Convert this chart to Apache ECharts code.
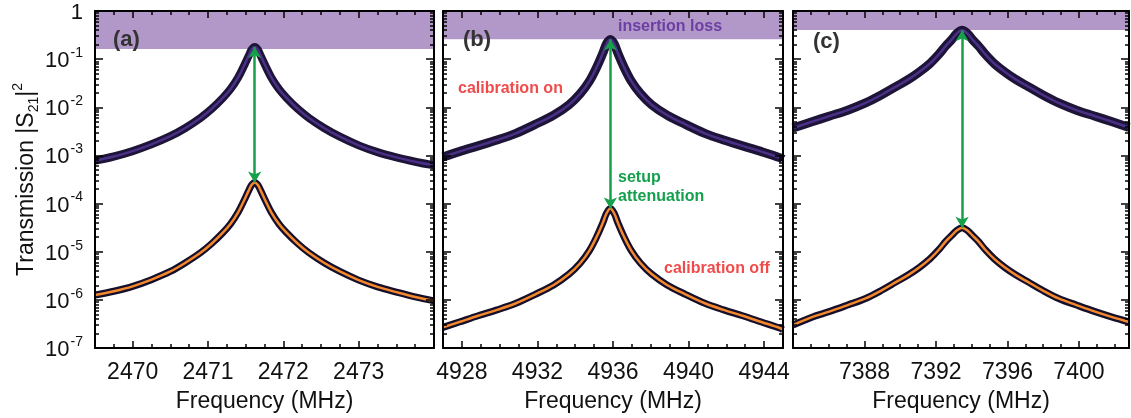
<!DOCTYPE html>
<html>
<head>
<meta charset="utf-8">
<script src="https://cdn.jsdelivr.net/npm/echarts@6/dist/echarts.min.js"></script>
<style>
  html, body { margin: 0; padding: 0; background: #fff; }
  #chart { width: 1131px; height: 418px; }
</style>
</head>
<body>
<div id="chart"></div>
<script>
// ---- Resonance (a): frequency in MHz, transmission |S21|^2 ----
const freqA = [2469.5, 2469.75, 2470.0, 2470.25, 2470.5, 2470.7, 2470.9, 2471.05, 2471.2, 2471.3,
  2471.4, 2471.48, 2471.54, 2471.58, 2471.62, 2471.66, 2471.7, 2471.76, 2471.84, 2471.94,
  2472.04, 2472.19, 2472.34, 2472.54, 2472.75, 2473.0, 2473.25, 2473.5, 2473.75, 2474.0];
const calOnA = [7.8e-4, 9.5e-4, 1.23e-3, 1.70e-3, 2.51e-3, 3.72e-3, 6.0e-3, 9.3e-3, 1.58e-2, 2.40e-2,
  4.17e-2, 7.4e-2, 0.117, 0.158, 0.178, 0.158, 0.117, 7.4e-2, 4.17e-2, 2.40e-2,
  1.58e-2, 9.3e-3, 6.0e-3, 3.72e-3, 2.45e-3, 1.62e-3, 1.17e-3, 9.1e-4, 7.4e-4, 6.2e-4];
const calOffA = [1.26e-6, 1.51e-6, 1.91e-6, 2.63e-6, 3.89e-6, 5.9e-6, 9.5e-6, 1.48e-5, 2.51e-5, 3.80e-5,
  6.6e-5, 1.17e-4, 1.86e-4, 2.45e-4, 2.75e-4, 2.45e-4, 1.86e-4, 1.17e-4, 6.6e-5, 3.80e-5,
  2.51e-5, 1.48e-5, 9.5e-6, 5.9e-6, 3.89e-6, 2.57e-6, 1.86e-6, 1.45e-6, 1.15e-6, 9.5e-7];

// ---- Resonance (b) ----
const freqB = [4927.0, 4927.86, 4928.86, 4929.86, 4930.86, 4931.86, 4932.86, 4933.66, 4934.26, 4934.76,
  4935.16, 4935.46, 4935.66, 4935.86, 4936.06, 4936.26, 4936.56, 4936.96, 4937.46, 4938.06,
  4938.86, 4939.86, 4940.86, 4941.86, 4942.86, 4943.86, 4944.86, 4945.0];
const calOnB = [9.3e-4, 1.20e-3, 1.58e-3, 2.09e-3, 2.88e-3, 4.37e-3, 6.9e-3, 1.12e-2, 1.91e-2, 3.55e-2,
  7.1e-2, 0.132, 0.209, 0.257, 0.209, 0.132, 7.1e-2, 3.55e-2, 1.91e-2, 1.12e-2,
  6.9e-3, 4.37e-3, 2.88e-3, 2.09e-3, 1.58e-3, 1.20e-3, 8.9e-4, 8.3e-4];
const calOffB = [2.69e-7, 3.47e-7, 4.68e-7, 6.2e-7, 8.5e-7, 1.29e-6, 2.04e-6, 3.39e-6, 5.75e-6, 1.07e-5,
  2.14e-5, 3.98e-5, 6.3e-5, 7.9e-5, 6.3e-5, 3.98e-5, 2.14e-5, 1.07e-5, 5.75e-6, 3.39e-6,
  2.04e-6, 1.29e-6, 8.5e-7, 6.2e-7, 4.68e-7, 3.47e-7, 2.57e-7, 2.40e-7];

// ---- Resonance (c) ----
const freqC = [7384.0, 7385.06, 7386.06, 7387.06, 7388.06, 7388.96, 7389.76, 7390.46, 7391.06, 7391.66,
  7392.16, 7392.56, 7392.86, 7393.16, 7393.46, 7393.76, 7394.06, 7394.36, 7394.76, 7395.26,
  7395.86, 7396.46, 7397.16, 7397.96, 7398.86, 7399.86, 7400.86, 7401.86, 7402.8];
const calOnC = [3.72e-3, 5.0e-3, 6.6e-3, 8.7e-3, 1.23e-2, 1.82e-2, 2.69e-2, 3.80e-2, 5.4e-2, 8.1e-2,
  0.126, 0.191, 0.251, 0.339, 0.398, 0.339, 0.251, 0.191, 0.126, 8.1e-2,
  5.4e-2, 3.80e-2, 2.69e-2, 1.82e-2, 1.23e-2, 8.7e-3, 6.6e-3, 5.0e-3, 3.80e-3];
const calOffC = [3.0e-7, 4.37e-7, 5.75e-7, 7.8e-7, 1.07e-6, 1.58e-6, 2.34e-6, 3.31e-6, 4.68e-6, 7.1e-6,
  1.10e-5, 1.66e-5, 2.14e-5, 2.75e-5, 3.16e-5, 2.75e-5, 2.14e-5, 1.66e-5, 1.10e-5, 7.1e-6,
  4.68e-6, 3.31e-6, 2.34e-6, 1.58e-6, 1.07e-6, 7.8e-7, 5.75e-7, 4.37e-7, 3.47e-7];

// Insertion loss level shown as a shaded band for each resonance
const insertionLoss = [0.162, 0.26, 0.405];

// Tick labels
const xTickLabels = [
  [2470, 2471, 2472, 2473],
  [4928, 4932, 4936, 4940, 4944],
  [7388, 7392, 7396, 7400]
];
const yTickLabels = [1e-7, 1e-6, 1e-5, 1e-4, 1e-3, 1e-2, 1e-1, 1];

// Axis ranges and minor tick step per panel
const xMin = [2469.5, 4927, 7384];
const xMax = [2474.0, 4945, 7402.8];
const xMinorStep = [0.25, 1, 1];

const panelFreq = [freqA, freqB, freqC];
const panelOn = [calOnA, calOnB, calOnC];
const panelOff = [calOffA, calOffB, calOffC];

const FONT = 'Liberation Sans, Arial, sans-serif';
const grids = [
  { left: 95, top: 11, width: 339, height: 339 },
  { left: 443, top: 11, width: 340, height: 339 },
  { left: 793, top: 11, width: 336, height: 339 }
];
const Y_MIN = 1e-7, Y_MAX = 1;
const DECADES = Math.log10(Y_MAX / Y_MIN);

// log-axis minor ticks: 2..9 x 10^k
const yMinor = [];
for (let k = -7; k < 0; k++) {
  for (let m = 2; m <= 9; m++) yMinor.push(+(m * Math.pow(10, k)).toPrecision(3));
}

const axisLineStyle = { color: '#000', width: 2 };

const xAxis = [];
const yAxis = [];
grids.forEach((g, i) => {
  const base = {
    type: 'value', gridIndex: i, min: xMin[i], max: xMax[i], z: 10,
    splitLine: { show: false }, axisTick: { show: false },
    axisLine: { show: true, onZero: false, lineStyle: axisLineStyle }
  };
  xAxis.push(Object.assign({}, base, {
    position: 'bottom',
    axisLabel: {
      show: true, customValues: xTickLabels[i], fontSize: 23, color: '#111', fontFamily: FONT, margin: 13,
      formatter: function (v) { return String(v); }
    },
    name: 'Frequency (MHz)',
    nameLocation: 'middle',
    nameGap: 42,
    nameTextStyle: { fontSize: 23, color: '#111', fontFamily: FONT }
  }));
  xAxis.push(Object.assign({}, base, { position: 'top', axisLabel: { show: false } }));

  const ybase = {
    type: 'log', logBase: 10, gridIndex: i, min: Y_MIN, max: Y_MAX, z: 10,
    splitLine: { show: false }, axisTick: { show: false },
    axisLine: { show: true, onZero: false, lineStyle: axisLineStyle }
  };
  const left = Object.assign({}, ybase, {
    position: 'left',
    axisLabel: {
      show: i === 0,
      margin: 12,
      fontFamily: FONT,
      color: '#111',
      formatter: function (v) {
        const e = Math.round(Math.log10(v));
        return e === 0 ? '{b|1}' : '{b|10}{s|' + e + '}';
      },
      rich: {
        b: { fontSize: 22, fontFamily: FONT, color: '#111', lineHeight: 26, verticalAlign: 'bottom' },
        s: { fontSize: 14, fontFamily: FONT, color: '#111', lineHeight: 26, verticalAlign: 'top', padding: [0, 0, 0, 1] }
      }
    }
  });
  if (i === 0) {
    left.name = '{n|Transmission |S}{sub|21}{n||}{sup|2}';
    left.nameLocation = 'middle';
    left.nameGap = 50;
    left.nameTextStyle = {
      fontFamily: FONT,
      rich: {
        n: { fontSize: 23, fontFamily: FONT, color: '#111', lineHeight: 30, verticalAlign: 'middle' },
        sub: { fontSize: 14, fontFamily: FONT, color: '#111', lineHeight: 30, verticalAlign: 'bottom' },
        sup: { fontSize: 14, fontFamily: FONT, color: '#111', lineHeight: 30, verticalAlign: 'top' }
      }
    };
  }
  yAxis.push(left);
  yAxis.push(Object.assign({}, ybase, { position: 'right', axisLabel: { show: false } }));
});

// Inward tick segments on the four frame sides, expressed in axis units
function frameTicks(i) {
  const g = grids[i];
  const xPerPx = (xMax[i] - xMin[i]) / g.width;
  const decPerPx = DECADES / g.height;
  const segs = [];
  const xt = xTickLabels[i].map(v => [v, 7]);
  const steps = Math.round((xMax[i] - xMin[i]) / xMinorStep[i]);
  for (let s = 1; s <= steps; s++) {
    const v = Math.round((xMin[i] + s * xMinorStep[i]) * 1000) / 1000;
    if (xTickLabels[i].indexOf(v) < 0 && v < xMax[i]) xt.push([v, 4]);
  }
  xt.forEach(([v, len]) => {
    const k = Math.pow(10, len * decPerPx);
    segs.push([{ coord: [v, Y_MIN] }, { coord: [v, Y_MIN * k] }]);
    segs.push([{ coord: [v, Y_MAX] }, { coord: [v, Y_MAX / k] }]);
  });
  const yt = yTickLabels.slice(1, -1).map(v => [v, 8]).concat(yMinor.map(v => [v, 4]));
  yt.forEach(([v, len]) => {
    segs.push([{ coord: [xMin[i], v] }, { coord: [xMin[i] + len * xPerPx, v] }]);
    segs.push([{ coord: [xMax[i], v] }, { coord: [xMax[i] - len * xPerPx, v] }]);
  });
  return segs;
}

const series = [];
grids.forEach((g, i) => {
  const f = panelFreq[i];
  const on = f.map((x, j) => [x, panelOn[i][j]]);
  const off = f.map((x, j) => [x, panelOff[i][j]]);
  const peakIdx = panelOn[i].indexOf(Math.max.apply(null, panelOn[i]));
  const peakIdxOff = panelOff[i].indexOf(Math.max.apply(null, panelOff[i]));
  const axes = { xAxisIndex: i * 2, yAxisIndex: i * 2 };
  const onWidth = i === 0 ? 8 : 9;

  // shaded insertion-loss band
  series.push(Object.assign({
    type: 'line', data: on, symbol: 'none', silent: true, z: 1,
    lineStyle: { opacity: 0 },
    markArea: {
      silent: true,
      itemStyle: { color: '#b297c9' },
      data: [[{ coord: [xMin[i], Y_MAX] }, { coord: [xMax[i], insertionLoss[i]] }]]
    }
  }, axes));
  // calibrated measurement (dense markers)
  series.push(Object.assign({
    type: 'line', data: on, symbol: 'none', smooth: 0.35, silent: true, z: 3,
    lineStyle: { color: '#1d1438', width: onWidth }
  }, axes));
  series.push(Object.assign({
    type: 'line', data: on, symbol: 'none', smooth: 0.35, silent: true, z: 4,
    lineStyle: { color: '#4a3087', width: 2.5 }
  }, axes));
  // uncalibrated measurement and its fit
  series.push(Object.assign({
    type: 'line', data: off, symbol: 'none', smooth: 0.35, silent: true, z: 3,
    lineStyle: { color: '#160f2b', width: 7 }
  }, axes));
  series.push(Object.assign({
    type: 'line', data: off, symbol: 'none', smooth: 0.35, silent: true, z: 4,
    lineStyle: { color: '#f4882c', width: 2.5 },
    markLine: {
      silent: true,
      symbol: ['arrow', 'arrow'],
      symbolSize: [10, 11],
      label: { show: false },
      lineStyle: { color: '#16a04a', width: 2.5, type: 'solid' },
      data: [[
        { coord: [f[peakIdx], panelOn[i][peakIdx]] },
        { coord: [f[peakIdx], panelOff[i][peakIdxOff]] }
      ]]
    }
  }, axes));
  // frame ticks
  series.push(Object.assign({
    type: 'line', data: on, symbol: 'none', silent: true, z: 20,
    lineStyle: { opacity: 0 },
    markLine: {
      silent: true,
      symbol: 'none',
      label: { show: false },
      emphasis: { disabled: true },
      lineStyle: { color: '#000', width: 1.5, type: 'solid', opacity: 1 },
      data: frameTicks(i)
    }
  }, axes));
});

function txt(x, y, text, size, color, bold) {
  return {
    type: 'text', x: x, y: y, z: 100,
    style: {
      text: text, fill: color, fontSize: size, fontFamily: FONT,
      fontWeight: bold ? 'bold' : 'normal', textVerticalAlign: 'middle', textAlign: 'left'
    }
  };
}

const option = {
  animation: false,
  backgroundColor: '#fff',
  grid: grids,
  xAxis: xAxis,
  yAxis: yAxis,
  series: series,
  graphic: [
    txt(113, 40, '(a)', 22, '#333', true),
    txt(463, 40, '(b)', 22, '#333', true),
    txt(813, 42, '(c)', 22, '#333', true),
    txt(618, 27, 'insertion loss', 16, '#6d3fa3', true),
    txt(458, 89, 'calibration on', 16, '#f04a4a', true),
    txt(618, 178, 'setup', 16, '#14a04c', true),
    txt(618, 197, 'attenuation', 16, '#14a04c', true),
    txt(664, 269, 'calibration off', 16, '#f04a4a', true)
  ]
};

echarts.init(document.getElementById('chart')).setOption(option);
</script>
</body>
</html>
